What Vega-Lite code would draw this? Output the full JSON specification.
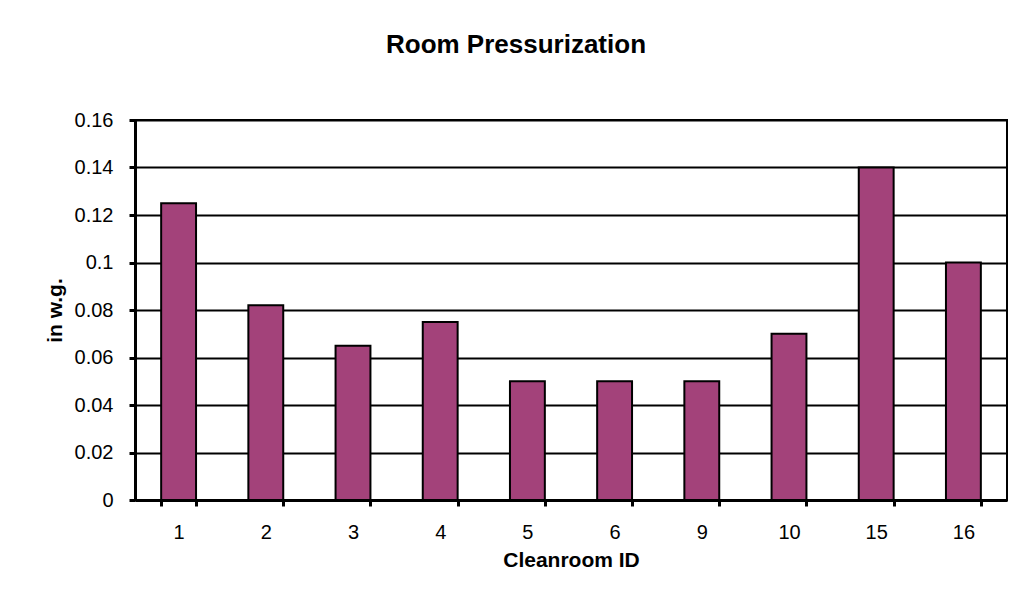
{
  "$schema": "https://vega.github.io/schema/vega-lite/v6.json",
  "width": 872,
  "height": 380,
  "autosize": {"type": "none"},
  "padding": {"left": 135, "top": 120, "right": 15, "bottom": 113},
  "background": "white",
  "title": {
    "text": "Room Pressurization",
    "font": "Liberation Sans",
    "fontSize": 26,
    "fontWeight": "bold",
    "color": "black",
    "dx": -55,
    "offset": 52
  },
  "data": {
    "values": [
      {"room": "1", "value": 0.125},
      {"room": "2", "value": 0.082},
      {"room": "3", "value": 0.065},
      {"room": "4", "value": 0.075},
      {"room": "5", "value": 0.05},
      {"room": "6", "value": 0.05},
      {"room": "9", "value": 0.05},
      {"room": "10", "value": 0.07},
      {"room": "15", "value": 0.14},
      {"room": "16", "value": 0.1}
    ]
  },
  "mark": {"type": "bar", "color": "#A3427A", "stroke": "black", "strokeWidth": 2},
  "encoding": {
    "x": {
      "field": "room",
      "type": "ordinal",
      "sort": null,
      "title": "Cleanroom ID",
      "scale": {"paddingInner": 0.6, "paddingOuter": 0.3},
      "axis": {
        "labelAngle": 0,
        "tickBand": "extent",
        "tickSize": 6,
        "tickWidth": 3,
        "tickColor": "black",
        "domainColor": "black",
        "domainWidth": 3,
        "labelPadding": 16,
        "labelFont": "Liberation Sans",
        "labelFontSize": 20,
        "labelColor": "black",
        "titleFont": "Liberation Sans",
        "titleFontSize": 21,
        "titleFontWeight": "bold",
        "titleColor": "black",
        "titlePadding": 7
      }
    },
    "y": {
      "field": "value",
      "type": "quantitative",
      "title": "in w.g.",
      "scale": {"domain": [0, 0.16], "nice": false},
      "axis": {
        "values": [0, 0.02, 0.04, 0.06, 0.08, 0.1, 0.12, 0.14, 0.16],
        "format": ".2~f",
        "grid": true,
        "gridColor": "black",
        "gridWidth": 2,
        "gridOpacity": 1,
        "tickSize": 6,
        "tickWidth": 3,
        "tickColor": "black",
        "domainColor": "black",
        "domainWidth": 3,
        "labelPadding": 16,
        "labelFont": "Liberation Sans",
        "labelFontSize": 20,
        "labelColor": "black",
        "titleFont": "Liberation Sans",
        "titleFontSize": 21,
        "titleFontWeight": "bold",
        "titleColor": "black",
        "titlePadding": 9
      }
    }
  },
  "config": {
    "view": {"stroke": "black", "strokeWidth": 2},
    "axis": {"zindex": 0}
  }
}
